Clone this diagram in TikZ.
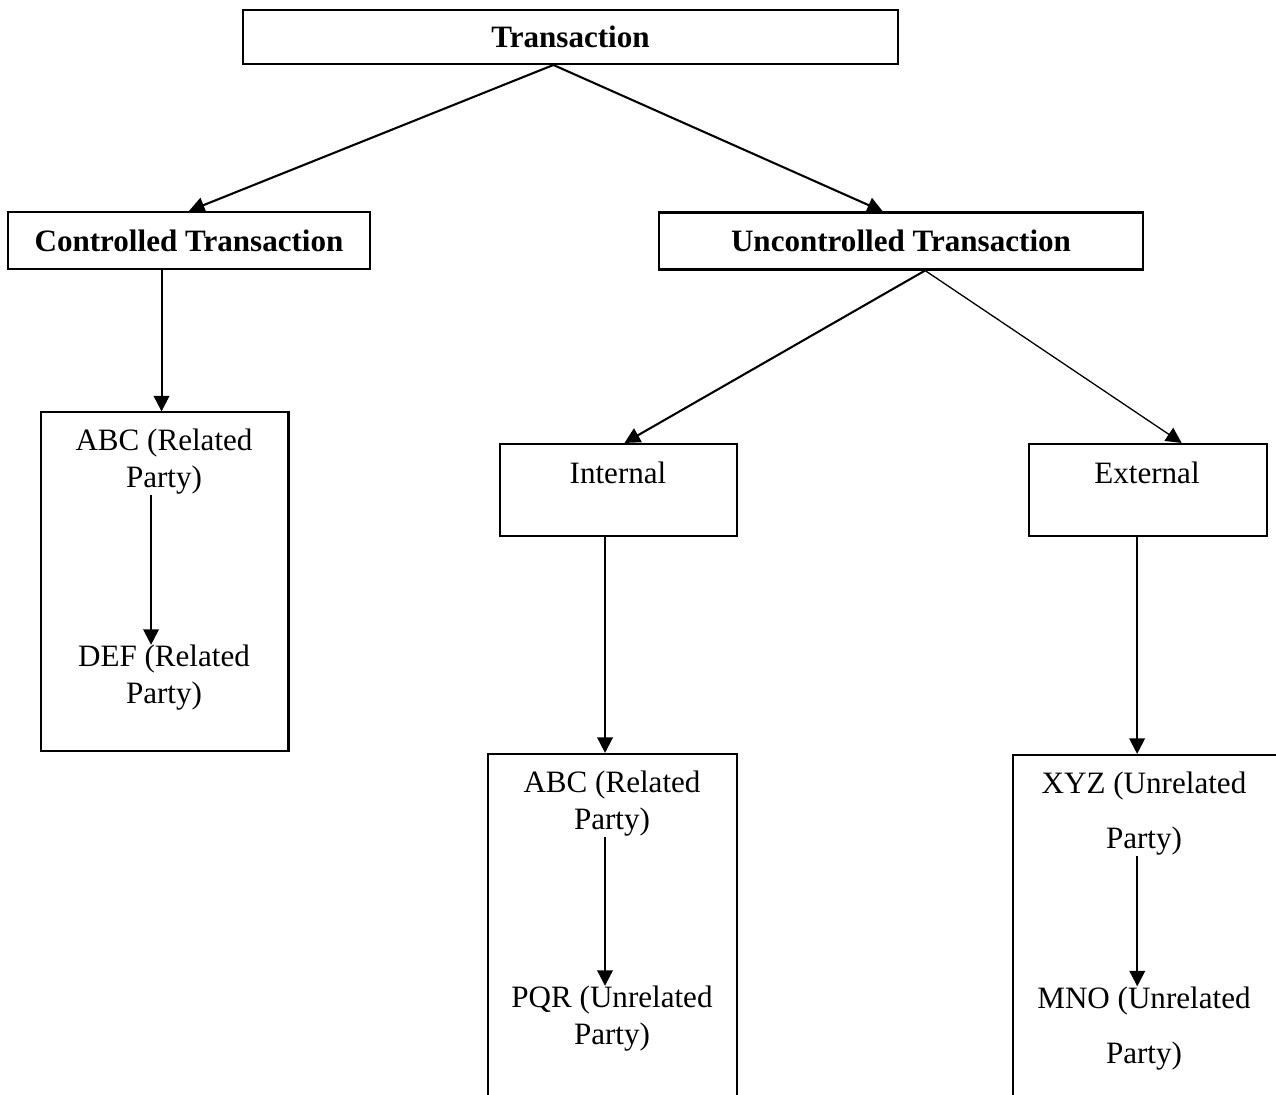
\documentclass[tikz,border=0pt]{standalone}
\usepackage{fontspec}
\setmainfont{Liberation Serif}
\usetikzlibrary{positioning,arrows.meta}
\tikzset{
  framebox/.style  = {draw, line width=0.8pt, inner sep=0pt},
  headbox/.style   = {framebox, minimum height=22pt,
                      font=\fontsize{12}{14.4}\selectfont\bfseries},
  partytxt/.style  = {align=center, inner sep=0pt,
                      font=\fontsize{12}{14.3}\selectfont},
  widetxt/.style   = {partytxt, font=\fontsize{12}{21.2}\selectfont},
  flowarrow/.style = {-{Triangle[width=6pt,length=6pt]}, line width=0.8pt}
}

\begin{document}
\begin{tikzpicture}[x=0.386pt, y=-0.386pt]
  \clip (0,0) rectangle (1276,1095);
  % Level 0
  \node[headbox, minimum width=252.8pt, minimum height=20.8pt] (trans) at (570.5,37) {Transaction};
  % Level 1
  \node[headbox, minimum width=139.7pt] (ctrl) at (189,240.5) {Controlled Transaction};
  \node[headbox, minimum width=186.8pt] (unctrl) at (901,241) {Uncontrolled Transaction};
  % Level 2
  \node[framebox, minimum width=95.7pt, minimum height=130.5pt] (relbox) at (164.5,581.5) {};
  \node[framebox, minimum width=91.5pt, minimum height=35.5pt] (intbox) at (618.5,490) {};
  \node[framebox, minimum width=91.9pt, minimum height=35.5pt] (extbox) at (1148,490) {};
  \node[partytxt] (intlbl) at (618,473) {Internal};
  \node[partytxt] (extlbl) at (1147,473) {External};
  % Level 3 (boxes run off the page)
  \node[framebox, minimum width=96.1pt, minimum height=141.3pt] (pqrbox) at (612.5,937) {};
  \node[framebox, minimum width=106.9pt, minimum height=140.9pt] (xyzbox) at (1151.5,937.5) {};
  % Parties
  \node[partytxt] (abcrel) at (164,462) {ABC (Related\\Party)};
  \node[partytxt] (defrel) at (164,678) {DEF (Related\\Party)};
  \node[partytxt] (abcint) at (612,804) {ABC (Related\\Party)};
  \node[partytxt] (pqrint) at (612,1019) {PQR (Unrelated\\Party)};
  \node[widetxt]  (xyzext) at (1144,813.5) {XYZ (Unrelated\\Party)};
  \node[widetxt]  (mnoext) at (1144,1028.5) {MNO (Unrelated\\Party)};
  % Edges
  \draw[flowarrow] ([xshift=-6.6pt]trans.south) -- (ctrl.north);
  \draw[flowarrow] ([xshift=-6.6pt]trans.south) -- ([xshift=-7pt]unctrl.north);
  \draw[flowarrow] ([xshift=-10.6pt]ctrl.south) -- ([xshift=-10.6pt]ctrl.south |- relbox.north);
  \draw[flowarrow] ([xshift=9.3pt]unctrl.south) -- ([xshift=2.3pt]intbox.north);
  \draw[flowarrow, line width=0.5pt] ([xshift=9.3pt]unctrl.south) -- ([xshift=13pt]extbox.north);
  \draw[flowarrow] ([xshift=-5.2pt]intbox.south) -- ([xshift=-5.2pt]intbox.south |- pqrbox.north);
  \draw[flowarrow] ([xshift=-4.2pt]extbox.south) -- ([xshift=-4.2pt]extbox.south |- xyzbox.north);
  % Edges inside the party boxes
  \draw[flowarrow] ([xshift=-5pt]abcrel.south) -- ([xshift=-5pt]defrel.north);
  \draw[flowarrow] ([xshift=-2.7pt]abcint.south) -- ([xshift=-2.7pt]pqrint.north);
  \draw[flowarrow] ([xshift=-2.6pt]xyzext.south) -- ([xshift=-2.6pt]mnoext.north);
\end{tikzpicture}
\end{document}
